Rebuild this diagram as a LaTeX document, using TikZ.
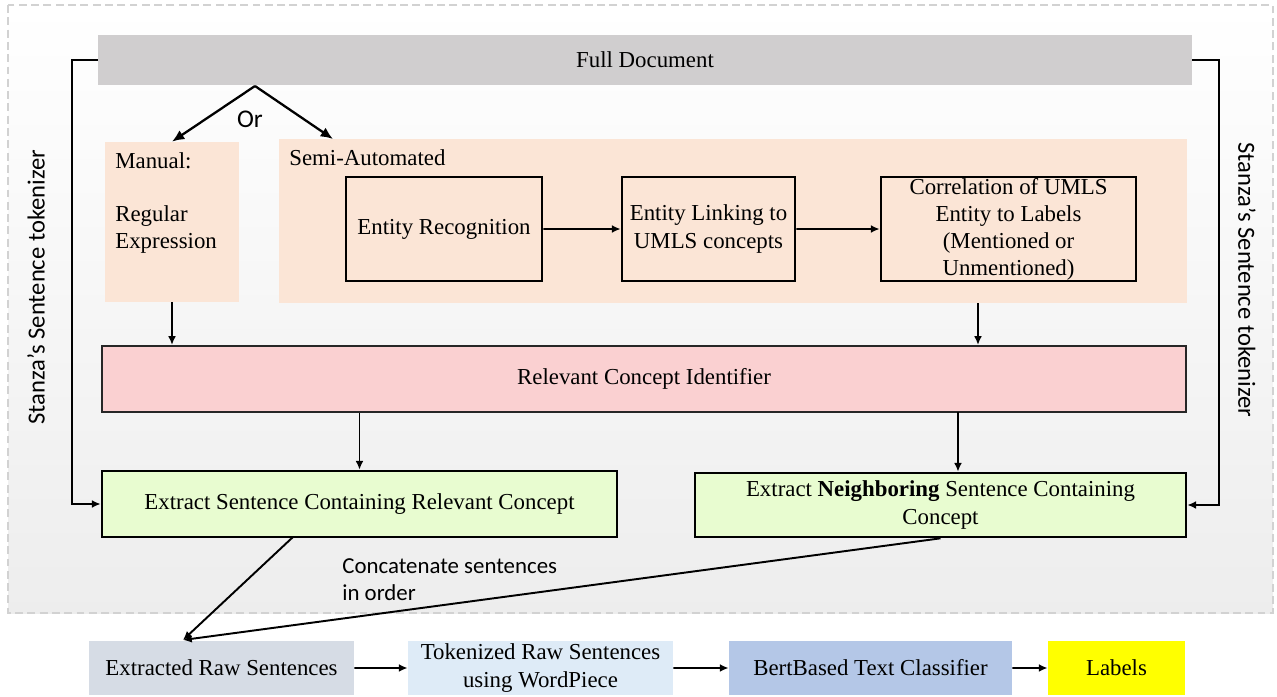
\documentclass[tikz,border=0pt]{standalone}
\usepackage{fontspec}
\setmainfont{Liberation Serif}
\newfontfamily\calibri{Carlito}
\usetikzlibrary{arrows.meta,positioning}

\definecolor{docgray}{HTML}{D0CECF}
\definecolor{peach}{HTML}{FBE5D6}
\definecolor{rose}{HTML}{FAD0D1}
\definecolor{fillgreen}{HTML}{E8FCD0}
\definecolor{rawblue}{HTML}{D6DCE5}
\definecolor{tokblue}{HTML}{DEEBF7}
\definecolor{bertblue}{HTML}{B4C7E7}
\definecolor{labyellow}{HTML}{FFFF00}

\begin{document}
\begin{tikzpicture}[scale=0.2,
  txt/.style={font=\fontsize{13}{15.4}\selectfont, align=center},
  sanstxt/.style={font=\calibri\fontsize{13}{15.4}\selectfont, align=left},
  panel/.style={rectangle, fill=peach},
  stepbox/.style={txt, draw, line width=1.5pt, fill=peach, minimum height=2.08cm},
  extbox/.style={txt, draw, line width=1.5pt, fill=fillgreen},
  flatbox/.style={txt, minimum height=1.08cm},
  arr/.style={-{Latex[length=5pt,width=4.5pt]}, line width=1.1pt},
  orarr/.style={-{Latex[length=7pt,width=6pt]}, line width=1.3pt}]
\tikzstyle{every node}+=[inner sep=0pt]

% frame
\useasboundingbox (0,0) rectangle (127.7,-69.6);
\shade[top color=white, middle color=gray!45, bottom color=gray!14] (0.8,-0.5) rectangle (127.3,-61.3);
\draw[gray!35, dash pattern=on 4.5pt off 2.5pt, line width=0.6pt] (0.8,-0.5) rectangle (127.3,-61.3);

% upper part
\node[txt, fill=docgray, minimum width=21.88cm, minimum height=1cm] (fulldoc) at (64.5,-6.0) {Full Document};
\node[panel, minimum width=2.68cm, minimum height=3.2cm] (manual) at (17.2,-22.2) {};
\node[txt, align=left, anchor=north west] (mantext) at (11.5,-15.2) {Manual:\\[15pt]Regular\\Expression};
\node[panel, minimum width=18.16cm, minimum height=3.28cm] (semi) at (73.3,-22.1) {};
\node[txt, anchor=north west] (semitext) at (28.9,-14.9) {Semi-Automated};
\node[stepbox, minimum width=3.92cm] (entrec) at (44.4,-22.9) {Entity Recognition};
\node[stepbox, minimum width=3.46cm] (entlink) at (70.85,-22.9) {Entity Linking to\\UMLS concepts};
\node[stepbox, minimum width=5.1cm] (corr) at (100.85,-22.9) {Correlation of UMLS\\Entity to Labels\\(Mentioned or\\Unmentioned)};
\node[txt, draw=black!85, line width=1.2pt, fill=rose, minimum width=21.68cm, minimum height=1.32cm] (relcon) at (64.4,-37.9) {Relevant Concept Identifier};
\node[extbox, minimum width=10.3cm, minimum height=1.32cm] (extsent) at (35.95,-50.4) {Extract Sentence Containing Relevant Concept};
\node[extbox, minimum width=9.82cm, minimum height=1.28cm] (extneigh) at (94.05,-50.5) {Extract \textbf{Neighboring} Sentence Containing\\Concept};

% side labels
\node[sanstxt, font=\calibri\fontsize{14}{16}\selectfont, rotate=90] (stanzaleft) at (3.6,-28.7) {Stanza’s Sentence tokenizer};
\node[sanstxt, font=\calibri\fontsize{14}{16}\selectfont, rotate=-90] (stanzaright) at (124.7,-28.0) {Stanza’s Sentence tokenizer};

% bottom row
\node[flatbox, fill=rawblue, minimum width=5.3cm] (rawsent) at (22.15,-66.8) {Extracted Raw Sentences};
\node[flatbox, fill=tokblue, minimum width=5.3cm] (toksent) at (54.05,-66.8) {Tokenized Raw Sentences\\using WordPiece};
\node[flatbox, fill=bertblue, minimum width=5.66cm] (bert) at (87.05,-66.8) {BertBased Text Classifier};
\node[flatbox, fill=labyellow, minimum width=2.74cm] (labels) at (111.65,-66.8) {Labels};

% connectors
\coordinate (orsplit) at (25.5,-8.6);
\coordinate (semientry) at (33.3,-13.9);
\draw[orarr] (orsplit) -- (manual.north);
\draw[orarr] (orsplit) -- (semientry);
\node[sanstxt, font=\calibri\fontsize{14.5}{16}\selectfont] (ortext) at (25.0,-11.9) {Or};

\draw[arr] (entrec) -- (entlink);
\draw[arr] (entlink) -- (corr);

\coordinate (semiexit) at (97.8,-30.3);
\coordinate (relexit) at (95.8,-41.2);
\draw[arr] (manual.south) -- (manual.south |- relcon.north);
\draw[arr] (semiexit) -- (semiexit |- relcon.north);
\draw[arr] (relcon.south -| extsent.north) -- (extsent.north);
\draw[arr] (relexit) -- (relexit |- extneigh.north);

\draw[arr] (fulldoc.west) -- ++(-2.6,0) |- (extsent.west);
\draw[arr] (fulldoc.east) -- ++(2.7,0) |- (extneigh.east);

\coordinate (sentexit) at (29.3,-53.7);
\coordinate (rawentry) at (18.3,-64.0);
\draw[arr] (sentexit) -- (rawentry);
\draw[arr] (extneigh.south) -- (rawentry);
\node[sanstxt, anchor=north west] (concat) at (34.2,-55.8) {Concatenate sentences\\in order};

\draw[arr] (rawsent) -- (toksent);
\draw[arr] (toksent) -- (bert);
\draw[arr] (bert) -- (labels);
\end{tikzpicture}
\end{document}
